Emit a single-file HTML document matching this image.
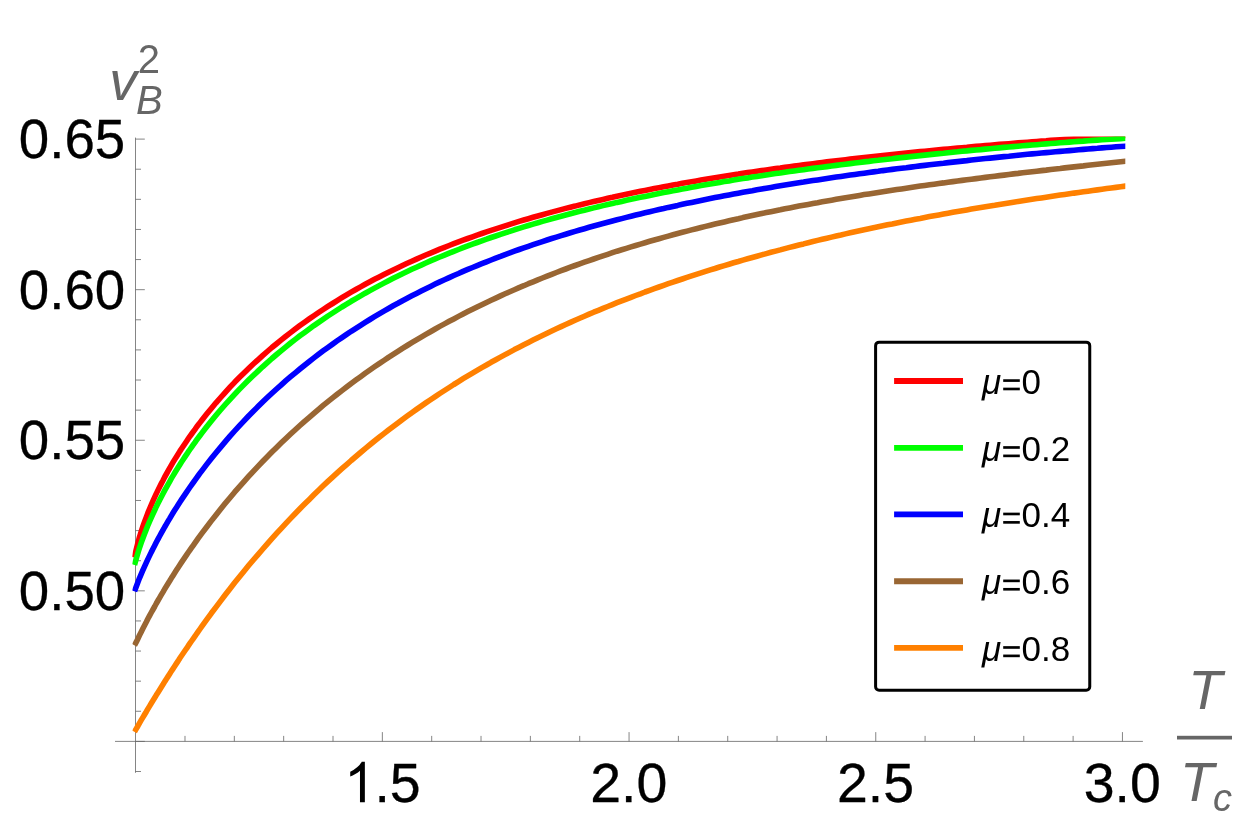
<!DOCTYPE html>
<html><head><meta charset="utf-8"><title>Plot</title>
<style>html,body{margin:0;padding:0;background:#fff;}body{width:1241px;height:835px;overflow:hidden;font-family:"Liberation Sans",sans-serif;}svg{display:block;will-change:transform;}</style>
</head><body>
<svg width="1241" height="835" viewBox="0 0 1241 835">
<defs><clipPath id="c"><rect x="132.4" y="136.4" width="992.9" height="640"/></clipPath></defs>
<rect width="1241" height="835" fill="#fff"/>
<path d="M115,741.4 H1142.9 M135.5,137.6 V772.8 M184.99,741.4 v-5.5 M234.33,741.4 v-5.5 M283.67,741.4 v-5.5 M333.01,741.4 v-5.5 M382.35,741.4 v-9.3 M431.69,741.4 v-5.5 M481.03,741.4 v-5.5 M530.37,741.4 v-5.5 M579.71,741.4 v-5.5 M629.05,741.4 v-9.3 M678.39,741.4 v-5.5 M727.73,741.4 v-5.5 M777.07,741.4 v-5.5 M826.41,741.4 v-5.5 M875.75,741.4 v-9.3 M925.09,741.4 v-5.5 M974.43,741.4 v-5.5 M1023.77,741.4 v-5.5 M1073.11,741.4 v-5.5 M1122.45,741.4 v-9.3 M135.5,771.51 h5.5 M135.5,741.40 h9.3 M135.5,711.28 h5.5 M135.5,681.17 h5.5 M135.5,651.06 h5.5 M135.5,620.94 h5.5 M135.5,590.83 h9.3 M135.5,560.71 h5.5 M135.5,530.60 h5.5 M135.5,500.48 h5.5 M135.5,470.36 h5.5 M135.5,440.25 h9.3 M135.5,410.13 h5.5 M135.5,380.02 h5.5 M135.5,349.90 h5.5 M135.5,319.79 h5.5 M135.5,289.68 h9.3 M135.5,259.56 h5.5 M135.5,229.45 h5.5 M135.5,199.33 h5.5 M135.5,169.21 h5.5 M135.5,139.10 h9.3" fill="none" stroke="#666666" stroke-width="0.8"/>
<g clip-path="url(#c)" fill="none" stroke-width="5.6" stroke-linejoin="round">
<path d="M134.5,557.5 L136.2,549.6 L137.9,543.0 L139.5,537.0 L141.2,531.6 L142.9,526.5 L144.6,521.7 L146.3,517.2 L147.9,512.9 L149.6,508.8 L151.3,504.8 L153.0,500.9 L154.7,497.2 L156.3,493.6 L158.0,490.1 L159.7,486.7 L161.4,483.4 L163.1,480.2 L164.7,477.0 L166.4,474.0 L168.1,470.9 L169.8,468.0 L171.4,465.1 L173.1,462.2 L174.8,459.4 L176.5,456.7 L178.2,454.0 L179.8,451.4 L181.5,448.8 L183.2,446.2 L184.9,443.7 L186.6,441.2 L188.2,438.8 L189.9,436.3 L191.6,434.0 L193.3,431.6 L195.0,429.3 L196.6,427.0 L198.3,424.8 L200.0,422.6 L202.0,420.0 L206.7,414.1 L211.3,408.4 L216.0,402.8 L220.7,397.5 L225.3,392.3 L230.0,387.2 L234.6,382.3 L239.3,377.6 L244.0,372.9 L248.6,368.4 L253.3,364.0 L258.0,359.8 L262.6,355.6 L267.3,351.5 L271.9,347.5 L276.6,343.7 L281.3,339.9 L285.9,336.2 L290.6,332.6 L295.3,329.1 L299.9,325.6 L304.6,322.2 L309.3,318.9 L313.9,315.7 L318.6,312.5 L323.2,309.5 L327.9,306.4 L332.6,303.5 L337.2,300.6 L341.9,297.7 L346.6,294.9 L351.2,292.2 L355.9,289.5 L360.6,286.9 L365.2,284.3 L369.9,281.8 L374.5,279.3 L379.2,276.9 L383.9,274.5 L388.5,272.2 L393.2,269.9 L397.9,267.7 L402.5,265.5 L407.2,263.3 L411.8,261.2 L416.5,259.1 L421.2,257.0 L425.8,255.0 L430.5,253.1 L435.2,251.1 L439.8,249.2 L444.5,247.4 L449.2,245.5 L453.8,243.7 L458.5,241.9 L463.1,240.2 L467.8,238.5 L472.5,236.8 L477.1,235.1 L481.8,233.5 L486.5,231.9 L491.1,230.3 L495.8,228.8 L500.5,227.3 L505.1,225.8 L509.8,224.3 L514.4,222.9 L519.1,221.4 L523.8,220.0 L528.4,218.7 L533.1,217.3 L537.8,216.0 L542.4,214.7 L547.1,213.4 L551.7,212.1 L556.4,210.9 L561.1,209.6 L565.7,208.4 L570.4,207.2 L575.1,206.1 L579.7,204.9 L584.4,203.8 L589.1,202.6 L593.7,201.5 L598.4,200.4 L603.0,199.4 L607.7,198.3 L612.4,197.3 L617.0,196.2 L621.7,195.2 L626.4,194.2 L631.0,193.3 L635.7,192.3 L640.4,191.3 L645.0,190.4 L649.7,189.5 L654.3,188.6 L659.0,187.7 L663.7,186.8 L668.3,185.9 L673.0,185.0 L677.7,184.2 L682.3,183.3 L687.0,182.5 L691.6,181.7 L696.3,180.9 L701.0,180.1 L705.6,179.3 L710.3,178.5 L715.0,177.7 L719.6,177.0 L724.3,176.2 L729.0,175.5 L733.6,174.8 L738.3,174.1 L742.9,173.3 L747.6,172.6 L752.3,171.9 L756.9,171.3 L761.6,170.6 L766.3,169.9 L770.9,169.3 L775.6,168.6 L780.3,168.0 L784.9,167.3 L789.6,166.7 L794.2,166.1 L798.9,165.5 L803.6,164.8 L808.2,164.2 L812.9,163.7 L817.6,163.1 L822.2,162.5 L826.9,161.9 L831.5,161.3 L836.2,160.8 L840.9,160.2 L845.5,159.7 L850.2,159.1 L854.9,158.6 L859.5,158.1 L864.2,157.5 L868.9,157.0 L873.5,156.5 L878.2,156.0 L882.8,155.5 L887.5,155.0 L892.2,154.5 L896.8,154.0 L901.5,153.5 L906.2,153.0 L910.8,152.6 L915.5,152.1 L920.2,151.6 L924.8,151.2 L929.5,150.7 L934.1,150.3 L938.8,149.8 L943.5,149.4 L948.1,149.0 L952.8,148.5 L957.5,148.1 L962.1,147.7 L966.8,147.3 L971.4,146.8 L976.1,146.4 L980.8,146.0 L985.4,145.6 L990.1,145.2 L994.8,144.8 L999.4,144.4 L1004.1,144.1 L1008.8,143.7 L1013.4,143.3 L1018.1,142.9 L1022.7,142.6 L1027.4,142.2 L1032.1,141.8 L1036.7,141.5 L1041.4,141.1 L1046.1,140.8 L1050.7,140.4 L1055.4,140.1 L1060.1,139.7 L1064.7,139.4 L1069.4,139.1 L1074.0,138.8 L1078.7,138.4 L1083.4,138.1 L1088.0,137.8 L1092.7,137.5 L1097.4,137.2 L1102.0,136.9 L1106.7,136.6 L1111.3,136.3 L1116.0,136.0 L1120.7,135.7 L1125.3,135.4 L1130.0,135.1" stroke="#ff0000"/>
<path d="M134.5,564.9 L136.2,558.7 L137.9,553.0 L139.5,547.8 L141.2,542.8 L142.9,538.2 L144.6,533.7 L146.3,529.4 L147.9,525.3 L149.6,521.4 L151.3,517.6 L153.0,513.8 L154.7,510.2 L156.3,506.7 L158.0,503.3 L159.7,499.9 L161.4,496.7 L163.1,493.5 L164.7,490.4 L166.4,487.3 L168.1,484.3 L169.8,481.3 L171.4,478.4 L173.1,475.6 L174.8,472.8 L176.5,470.0 L178.2,467.3 L179.8,464.7 L181.5,462.0 L183.2,459.5 L184.9,456.9 L186.6,454.4 L188.2,451.9 L189.9,449.5 L191.6,447.1 L193.3,444.7 L195.0,442.4 L196.6,440.0 L198.3,437.8 L200.0,435.5 L202.0,432.9 L206.7,426.8 L211.3,421.0 L216.0,415.3 L220.7,409.8 L225.3,404.5 L230.0,399.3 L234.6,394.3 L239.3,389.4 L244.0,384.6 L248.6,380.0 L253.3,375.5 L258.0,371.1 L262.6,366.8 L267.3,362.6 L271.9,358.5 L276.6,354.5 L281.3,350.6 L285.9,346.8 L290.6,343.0 L295.3,339.4 L299.9,335.8 L304.6,332.4 L309.3,329.0 L313.9,325.6 L318.6,322.4 L323.2,319.2 L327.9,316.0 L332.6,313.0 L337.2,310.0 L341.9,307.0 L346.6,304.2 L351.2,301.3 L355.9,298.6 L360.6,295.9 L365.2,293.2 L369.9,290.6 L374.5,288.1 L379.2,285.6 L383.9,283.1 L388.5,280.7 L393.2,278.3 L397.9,276.0 L402.5,273.7 L407.2,271.5 L411.8,269.3 L416.5,267.2 L421.2,265.1 L425.8,263.0 L430.5,260.9 L435.2,258.9 L439.8,257.0 L444.5,255.1 L449.2,253.2 L453.8,251.3 L458.5,249.5 L463.1,247.7 L467.8,245.9 L472.5,244.2 L477.1,242.5 L481.8,240.8 L486.5,239.2 L491.1,237.5 L495.8,236.0 L500.5,234.4 L505.1,232.8 L509.8,231.3 L514.4,229.8 L519.1,228.4 L523.8,226.9 L528.4,225.5 L533.1,224.1 L537.8,222.8 L542.4,221.4 L547.1,220.1 L551.7,218.8 L556.4,217.5 L561.1,216.2 L565.7,215.0 L570.4,213.7 L575.1,212.5 L579.7,211.3 L584.4,210.2 L589.1,209.0 L593.7,207.9 L598.4,206.7 L603.0,205.6 L607.7,204.5 L612.4,203.5 L617.0,202.4 L621.7,201.4 L626.4,200.3 L631.0,199.3 L635.7,198.3 L640.4,197.3 L645.0,196.4 L649.7,195.4 L654.3,194.4 L659.0,193.5 L663.7,192.6 L668.3,191.7 L673.0,190.8 L677.7,189.9 L682.3,189.0 L687.0,188.2 L691.6,187.3 L696.3,186.5 L701.0,185.6 L705.6,184.8 L710.3,184.0 L715.0,183.2 L719.6,182.4 L724.3,181.6 L729.0,180.9 L733.6,180.1 L738.3,179.3 L742.9,178.6 L747.6,177.9 L752.3,177.1 L756.9,176.4 L761.6,175.7 L766.3,175.0 L770.9,174.3 L775.6,173.6 L780.3,173.0 L784.9,172.3 L789.6,171.6 L794.2,171.0 L798.9,170.3 L803.6,169.7 L808.2,169.0 L812.9,168.4 L817.6,167.8 L822.2,167.2 L826.9,166.6 L831.5,166.0 L836.2,165.4 L840.9,164.8 L845.5,164.2 L850.2,163.6 L854.9,163.0 L859.5,162.5 L864.2,161.9 L868.9,161.4 L873.5,160.8 L878.2,160.3 L882.8,159.7 L887.5,159.2 L892.2,158.7 L896.8,158.1 L901.5,157.6 L906.2,157.1 L910.8,156.6 L915.5,156.1 L920.2,155.6 L924.8,155.1 L929.5,154.6 L934.1,154.1 L938.8,153.6 L943.5,153.2 L948.1,152.7 L952.8,152.2 L957.5,151.8 L962.1,151.3 L966.8,150.9 L971.4,150.4 L976.1,150.0 L980.8,149.6 L985.4,149.1 L990.1,148.7 L994.8,148.3 L999.4,147.9 L1004.1,147.4 L1008.8,147.0 L1013.4,146.6 L1018.1,146.2 L1022.7,145.8 L1027.4,145.4 L1032.1,145.0 L1036.7,144.7 L1041.4,144.3 L1046.1,143.9 L1050.7,143.5 L1055.4,143.2 L1060.1,142.8 L1064.7,142.5 L1069.4,142.1 L1074.0,141.8 L1078.7,141.4 L1083.4,141.1 L1088.0,140.7 L1092.7,140.4 L1097.4,140.1 L1102.0,139.8 L1106.7,139.5 L1111.3,139.2 L1116.0,138.9 L1120.7,138.6 L1125.3,138.3 L1130.0,138.0" stroke="#00ff00"/>
<path d="M134.5,591.3 L136.2,586.7 L137.9,582.3 L139.5,578.1 L141.2,574.1 L142.9,570.2 L144.6,566.4 L146.3,562.7 L147.9,559.1 L149.6,555.6 L151.3,552.1 L153.0,548.8 L154.7,545.5 L156.3,542.3 L158.0,539.1 L159.7,536.0 L161.4,532.9 L163.1,529.9 L164.7,527.0 L166.4,524.1 L168.1,521.2 L169.8,518.4 L171.4,515.6 L173.1,512.8 L174.8,510.1 L176.5,507.5 L178.2,504.8 L179.8,502.2 L181.5,499.6 L183.2,497.1 L184.9,494.6 L186.6,492.1 L188.2,489.7 L189.9,487.2 L191.6,484.8 L193.3,482.5 L195.0,480.1 L196.6,477.8 L198.3,475.5 L200.0,473.2 L202.0,470.6 L206.7,464.4 L211.3,458.5 L216.0,452.7 L220.7,447.1 L225.3,441.6 L230.0,436.2 L234.6,431.0 L239.3,425.9 L244.0,420.9 L248.6,416.0 L253.3,411.3 L258.0,406.6 L262.6,402.1 L267.3,397.6 L271.9,393.3 L276.6,389.0 L281.3,384.8 L285.9,380.7 L290.6,376.7 L295.3,372.8 L299.9,369.0 L304.6,365.2 L309.3,361.5 L313.9,357.9 L318.6,354.3 L323.2,350.8 L327.9,347.4 L332.6,344.1 L337.2,340.8 L341.9,337.6 L346.6,334.4 L351.2,331.3 L355.9,328.3 L360.6,325.3 L365.2,322.4 L369.9,319.5 L374.5,316.7 L379.2,313.9 L383.9,311.1 L388.5,308.5 L393.2,305.8 L397.9,303.3 L402.5,300.7 L407.2,298.2 L411.8,295.8 L416.5,293.4 L421.2,291.0 L425.8,288.7 L430.5,286.4 L435.2,284.1 L439.8,281.9 L444.5,279.8 L449.2,277.6 L453.8,275.5 L458.5,273.5 L463.1,271.4 L467.8,269.4 L472.5,267.5 L477.1,265.6 L481.8,263.7 L486.5,261.8 L491.1,260.0 L495.8,258.1 L500.5,256.4 L505.1,254.6 L509.8,252.9 L514.4,251.2 L519.1,249.5 L523.8,247.9 L528.4,246.3 L533.1,244.7 L537.8,243.1 L542.4,241.6 L547.1,240.0 L551.7,238.5 L556.4,237.1 L561.1,235.6 L565.7,234.2 L570.4,232.8 L575.1,231.4 L579.7,230.0 L584.4,228.7 L589.1,227.3 L593.7,226.0 L598.4,224.7 L603.0,223.5 L607.7,222.2 L612.4,221.0 L617.0,219.8 L621.7,218.6 L626.4,217.4 L631.0,216.2 L635.7,215.0 L640.4,213.9 L645.0,212.8 L649.7,211.7 L654.3,210.6 L659.0,209.5 L663.7,208.5 L668.3,207.4 L673.0,206.4 L677.7,205.4 L682.3,204.3 L687.0,203.3 L691.6,202.4 L696.3,201.4 L701.0,200.4 L705.6,199.5 L710.3,198.6 L715.0,197.6 L719.6,196.7 L724.3,195.8 L729.0,194.9 L733.6,194.1 L738.3,193.2 L742.9,192.3 L747.6,191.5 L752.3,190.7 L756.9,189.8 L761.6,189.0 L766.3,188.2 L770.9,187.4 L775.6,186.6 L780.3,185.8 L784.9,185.1 L789.6,184.3 L794.2,183.5 L798.9,182.8 L803.6,182.1 L808.2,181.3 L812.9,180.6 L817.6,179.9 L822.2,179.2 L826.9,178.5 L831.5,177.8 L836.2,177.1 L840.9,176.4 L845.5,175.8 L850.2,175.1 L854.9,174.4 L859.5,173.8 L864.2,173.2 L868.9,172.5 L873.5,171.9 L878.2,171.3 L882.8,170.6 L887.5,170.0 L892.2,169.4 L896.8,168.8 L901.5,168.2 L906.2,167.7 L910.8,167.1 L915.5,166.5 L920.2,165.9 L924.8,165.4 L929.5,164.8 L934.1,164.3 L938.8,163.7 L943.5,163.2 L948.1,162.6 L952.8,162.1 L957.5,161.6 L962.1,161.1 L966.8,160.6 L971.4,160.0 L976.1,159.5 L980.8,159.0 L985.4,158.5 L990.1,158.1 L994.8,157.6 L999.4,157.1 L1004.1,156.6 L1008.8,156.2 L1013.4,155.7 L1018.1,155.2 L1022.7,154.8 L1027.4,154.3 L1032.1,153.9 L1036.7,153.5 L1041.4,153.0 L1046.1,152.6 L1050.7,152.2 L1055.4,151.8 L1060.1,151.4 L1064.7,151.0 L1069.4,150.6 L1074.0,150.2 L1078.7,149.8 L1083.4,149.4 L1088.0,149.0 L1092.7,148.6 L1097.4,148.3 L1102.0,147.9 L1106.7,147.5 L1111.3,147.2 L1116.0,146.8 L1120.7,146.5 L1125.3,146.2 L1130.0,145.8" stroke="#0000ff"/>
<path d="M134.5,645.3 L136.2,642.2 L137.9,638.7 L139.5,635.3 L141.2,631.9 L142.9,628.5 L144.6,625.2 L146.3,622.0 L147.9,618.8 L149.6,615.6 L151.3,612.5 L153.0,609.5 L154.7,606.5 L156.3,603.5 L158.0,600.5 L159.7,597.6 L161.4,594.7 L163.1,591.9 L164.7,589.0 L166.4,586.3 L168.1,583.5 L169.8,580.8 L171.4,578.1 L173.1,575.4 L174.8,572.8 L176.5,570.1 L178.2,567.5 L179.8,565.0 L181.5,562.4 L183.2,559.9 L184.9,557.4 L186.6,554.9 L188.2,552.5 L189.9,550.1 L191.6,547.7 L193.3,545.3 L195.0,542.9 L196.6,540.6 L198.3,538.2 L200.0,535.9 L202.0,533.2 L206.7,527.0 L211.3,520.9 L216.0,514.9 L220.7,509.0 L225.3,503.3 L230.0,497.7 L234.6,492.2 L239.3,486.9 L244.0,481.6 L248.6,476.4 L253.3,471.3 L258.0,466.4 L262.6,461.5 L267.3,456.7 L271.9,452.0 L276.6,447.4 L281.3,442.8 L285.9,438.4 L290.6,434.0 L295.3,429.7 L299.9,425.5 L304.6,421.3 L309.3,417.3 L313.9,413.3 L318.6,409.3 L323.2,405.4 L327.9,401.6 L332.6,397.9 L337.2,394.2 L341.9,390.6 L346.6,387.0 L351.2,383.5 L355.9,380.1 L360.6,376.7 L365.2,373.3 L369.9,370.0 L374.5,366.8 L379.2,363.6 L383.9,360.5 L388.5,357.4 L393.2,354.4 L397.9,351.4 L402.5,348.4 L407.2,345.5 L411.8,342.7 L416.5,339.9 L421.2,337.1 L425.8,334.4 L430.5,331.7 L435.2,329.0 L439.8,326.4 L444.5,323.9 L449.2,321.3 L453.8,318.9 L458.5,316.4 L463.1,314.0 L467.8,311.6 L472.5,309.3 L477.1,307.0 L481.8,304.7 L486.5,302.4 L491.1,300.2 L495.8,298.1 L500.5,295.9 L505.1,293.8 L509.8,291.7 L514.4,289.7 L519.1,287.6 L523.8,285.7 L528.4,283.7 L533.1,281.8 L537.8,279.8 L542.4,278.0 L547.1,276.1 L551.7,274.3 L556.4,272.5 L561.1,270.7 L565.7,269.0 L570.4,267.2 L575.1,265.5 L579.7,263.8 L584.4,262.2 L589.1,260.6 L593.7,259.0 L598.4,257.4 L603.0,255.8 L607.7,254.3 L612.4,252.7 L617.0,251.2 L621.7,249.8 L626.4,248.3 L631.0,246.9 L635.7,245.5 L640.4,244.1 L645.0,242.7 L649.7,241.3 L654.3,240.0 L659.0,238.7 L663.7,237.4 L668.3,236.1 L673.0,234.8 L677.7,233.5 L682.3,232.3 L687.0,231.1 L691.6,229.9 L696.3,228.7 L701.0,227.5 L705.6,226.4 L710.3,225.2 L715.0,224.1 L719.6,223.0 L724.3,221.9 L729.0,220.8 L733.6,219.7 L738.3,218.7 L742.9,217.6 L747.6,216.6 L752.3,215.6 L756.9,214.6 L761.6,213.6 L766.3,212.6 L770.9,211.7 L775.6,210.7 L780.3,209.8 L784.9,208.8 L789.6,207.9 L794.2,207.0 L798.9,206.1 L803.6,205.2 L808.2,204.4 L812.9,203.5 L817.6,202.7 L822.2,201.8 L826.9,201.0 L831.5,200.2 L836.2,199.3 L840.9,198.5 L845.5,197.7 L850.2,197.0 L854.9,196.2 L859.5,195.4 L864.2,194.6 L868.9,193.9 L873.5,193.2 L878.2,192.4 L882.8,191.7 L887.5,191.0 L892.2,190.3 L896.8,189.6 L901.5,188.9 L906.2,188.2 L910.8,187.5 L915.5,186.8 L920.2,186.1 L924.8,185.5 L929.5,184.8 L934.1,184.2 L938.8,183.5 L943.5,182.9 L948.1,182.2 L952.8,181.6 L957.5,181.0 L962.1,180.4 L966.8,179.8 L971.4,179.2 L976.1,178.6 L980.8,178.0 L985.4,177.4 L990.1,176.8 L994.8,176.2 L999.4,175.6 L1004.1,175.1 L1008.8,174.5 L1013.4,173.9 L1018.1,173.4 L1022.7,172.8 L1027.4,172.3 L1032.1,171.7 L1036.7,171.2 L1041.4,170.6 L1046.1,170.1 L1050.7,169.5 L1055.4,169.0 L1060.1,168.5 L1064.7,167.9 L1069.4,167.4 L1074.0,166.9 L1078.7,166.4 L1083.4,165.9 L1088.0,165.3 L1092.7,164.8 L1097.4,164.3 L1102.0,163.8 L1106.7,163.3 L1111.3,162.8 L1116.0,162.3 L1120.7,161.8 L1125.3,161.3 L1130.0,160.8" stroke="#996633"/>
<path d="M134.5,731.8 L136.2,728.9 L137.9,726.0 L139.5,723.1 L141.2,720.2 L142.9,717.4 L144.6,714.5 L146.3,711.7 L147.9,708.9 L149.6,706.1 L151.3,703.3 L153.0,700.6 L154.7,697.8 L156.3,695.1 L158.0,692.4 L159.7,689.7 L161.4,687.0 L163.1,684.3 L164.7,681.6 L166.4,679.0 L168.1,676.4 L169.8,673.7 L171.4,671.1 L173.1,668.6 L174.8,666.0 L176.5,663.4 L178.2,660.9 L179.8,658.3 L181.5,655.8 L183.2,653.3 L184.9,650.8 L186.6,648.4 L188.2,645.9 L189.9,643.4 L191.6,641.0 L193.3,638.6 L195.0,636.2 L196.6,633.8 L198.3,631.4 L200.0,629.0 L202.0,626.2 L206.7,619.7 L211.3,613.3 L216.0,607.1 L220.7,600.9 L225.3,594.8 L230.0,588.8 L234.6,582.8 L239.3,577.0 L244.0,571.3 L248.6,565.6 L253.3,560.0 L258.0,554.6 L262.6,549.2 L267.3,543.8 L271.9,538.6 L276.6,533.4 L281.3,528.3 L285.9,523.3 L290.6,518.4 L295.3,513.5 L299.9,508.7 L304.6,504.0 L309.3,499.4 L313.9,494.8 L318.6,490.3 L323.2,485.8 L327.9,481.4 L332.6,477.1 L337.2,472.9 L341.9,468.7 L346.6,464.6 L351.2,460.5 L355.9,456.5 L360.6,452.5 L365.2,448.6 L369.9,444.8 L374.5,441.0 L379.2,437.3 L383.9,433.6 L388.5,430.0 L393.2,426.5 L397.9,423.0 L402.5,419.5 L407.2,416.1 L411.8,412.7 L416.5,409.4 L421.2,406.1 L425.8,402.9 L430.5,399.7 L435.2,396.6 L439.8,393.5 L444.5,390.5 L449.2,387.5 L453.8,384.5 L458.5,381.6 L463.1,378.7 L467.8,375.9 L472.5,373.1 L477.1,370.4 L481.8,367.6 L486.5,365.0 L491.1,362.3 L495.8,359.7 L500.5,357.1 L505.1,354.6 L509.8,352.1 L514.4,349.6 L519.1,347.2 L523.8,344.8 L528.4,342.4 L533.1,340.1 L537.8,337.7 L542.4,335.5 L547.1,333.2 L551.7,331.0 L556.4,328.8 L561.1,326.6 L565.7,324.5 L570.4,322.4 L575.1,320.3 L579.7,318.3 L584.4,316.2 L589.1,314.2 L593.7,312.2 L598.4,310.3 L603.0,308.4 L607.7,306.5 L612.4,304.6 L617.0,302.7 L621.7,300.9 L626.4,299.1 L631.0,297.3 L635.7,295.5 L640.4,293.8 L645.0,292.0 L649.7,290.3 L654.3,288.7 L659.0,287.0 L663.7,285.3 L668.3,283.7 L673.0,282.1 L677.7,280.5 L682.3,279.0 L687.0,277.4 L691.6,275.9 L696.3,274.4 L701.0,272.9 L705.6,271.4 L710.3,269.9 L715.0,268.5 L719.6,267.0 L724.3,265.6 L729.0,264.2 L733.6,262.8 L738.3,261.5 L742.9,260.1 L747.6,258.8 L752.3,257.5 L756.9,256.2 L761.6,254.9 L766.3,253.6 L770.9,252.3 L775.6,251.1 L780.3,249.9 L784.9,248.6 L789.6,247.4 L794.2,246.2 L798.9,245.0 L803.6,243.9 L808.2,242.7 L812.9,241.6 L817.6,240.4 L822.2,239.3 L826.9,238.2 L831.5,237.1 L836.2,236.0 L840.9,235.0 L845.5,233.9 L850.2,232.8 L854.9,231.8 L859.5,230.8 L864.2,229.8 L868.9,228.8 L873.5,227.8 L878.2,226.8 L882.8,225.8 L887.5,224.8 L892.2,223.9 L896.8,222.9 L901.5,222.0 L906.2,221.1 L910.8,220.2 L915.5,219.2 L920.2,218.4 L924.8,217.5 L929.5,216.6 L934.1,215.7 L938.8,214.9 L943.5,214.0 L948.1,213.2 L952.8,212.3 L957.5,211.5 L962.1,210.7 L966.8,209.9 L971.4,209.1 L976.1,208.3 L980.8,207.5 L985.4,206.7 L990.1,205.9 L994.8,205.2 L999.4,204.4 L1004.1,203.7 L1008.8,202.9 L1013.4,202.2 L1018.1,201.4 L1022.7,200.7 L1027.4,200.0 L1032.1,199.3 L1036.7,198.6 L1041.4,197.9 L1046.1,197.2 L1050.7,196.5 L1055.4,195.8 L1060.1,195.1 L1064.7,194.5 L1069.4,193.8 L1074.0,193.1 L1078.7,192.5 L1083.4,191.8 L1088.0,191.2 L1092.7,190.5 L1097.4,189.9 L1102.0,189.3 L1106.7,188.6 L1111.3,188.0 L1116.0,187.4 L1120.7,186.7 L1125.3,186.1 L1130.0,185.5" stroke="#ff8000"/>
</g>
<g font-family="Liberation Sans, sans-serif" font-size="55.5" fill="#000" stroke="#000" stroke-width="0.3">
<text transform="translate(125.2,158.1) scale(0.985,1.015)" text-anchor="end">0.65</text>
<text transform="translate(125.2,308.7) scale(0.985,1.015)" text-anchor="end">0.60</text>
<text transform="translate(125.2,459.2) scale(0.985,1.015)" text-anchor="end">0.55</text>
<text transform="translate(125.2,609.8) scale(0.985,1.015)" text-anchor="end">0.50</text>
<path stroke="none" transform="translate(344.18,802.2) scale(0.02710,-0.02751)" d="M763 0H583V1147Q518 1085 412.5 1023Q307 961 223 930V1104Q374 1175 487 1276Q600 1377 647 1472H763Z"/>
<text transform="translate(374.44,802.2) scale(1,1.015)" text-anchor="start">.5</text>
<text transform="translate(628.8,802.2) scale(1,1.015)" text-anchor="middle">2.0</text>
<text transform="translate(875.5,802.2) scale(1,1.015)" text-anchor="middle">2.5</text>
<text transform="translate(1122.2,802.2) scale(1,1.015)" text-anchor="middle">3.0</text>
</g>
<g font-family="Liberation Sans, sans-serif" font-style="italic" fill="#666666">
<text x="109.2" y="99.5" font-size="55.5">v</text>
<text x="137.8" y="73.3" font-size="40" font-style="normal">2</text>
<text x="135.9" y="114.2" font-size="40">B</text>
<text x="1188.3" y="709.4" font-size="55.5">T</text>
<rect x="1177" y="735.8" width="55" height="3.7"/>
<text x="1180" y="800.8" font-size="55.5">T</text>
<text x="1213" y="811" font-size="38">c</text>
</g>
<rect x="875.6" y="342.15" width="214.15" height="348" rx="3.5" fill="#fff" stroke="#000" stroke-width="3"/>
<path d="M894.1,380.95 H963.0" stroke="#ff0000" stroke-width="5.9" fill="none"/>
<path d="M894.1,447.85 H963.0" stroke="#00ff00" stroke-width="5.9" fill="none"/>
<path d="M894.1,514.35 H963.0" stroke="#0000ff" stroke-width="5.9" fill="none"/>
<path d="M894.1,581.25 H963.0" stroke="#996633" stroke-width="5.9" fill="none"/>
<path d="M894.1,647.85 H963.0" stroke="#ff8000" stroke-width="5.9" fill="none"/>
<g><text transform="translate(982,394.0) scale(1,1.015)" font-family="Liberation Sans, sans-serif" font-size="35" fill="#000" font-style="italic">μ</text>
<rect x="1003.2" y="379.25" width="16.6" height="2.65" fill="#000"/><rect x="1003.2" y="387.65" width="16.6" height="2.65" fill="#000"/>
<text transform="translate(1021.5,394.0) scale(1,1.015)" font-family="Liberation Sans, sans-serif" font-size="35" fill="#000">0</text>
<text transform="translate(982,460.9) scale(1,1.015)" font-family="Liberation Sans, sans-serif" font-size="35" fill="#000" font-style="italic">μ</text>
<rect x="1003.2" y="446.15" width="16.6" height="2.65" fill="#000"/><rect x="1003.2" y="454.55" width="16.6" height="2.65" fill="#000"/>
<text transform="translate(1021.5,460.9) scale(1,1.015)" font-family="Liberation Sans, sans-serif" font-size="35" fill="#000">0.2</text>
<text transform="translate(982,527.4) scale(1,1.015)" font-family="Liberation Sans, sans-serif" font-size="35" fill="#000" font-style="italic">μ</text>
<rect x="1003.2" y="512.65" width="16.6" height="2.65" fill="#000"/><rect x="1003.2" y="521.05" width="16.6" height="2.65" fill="#000"/>
<text transform="translate(1021.5,527.4) scale(1,1.015)" font-family="Liberation Sans, sans-serif" font-size="35" fill="#000">0.4</text>
<text transform="translate(982,594.3) scale(1,1.015)" font-family="Liberation Sans, sans-serif" font-size="35" fill="#000" font-style="italic">μ</text>
<rect x="1003.2" y="579.55" width="16.6" height="2.65" fill="#000"/><rect x="1003.2" y="587.95" width="16.6" height="2.65" fill="#000"/>
<text transform="translate(1021.5,594.3) scale(1,1.015)" font-family="Liberation Sans, sans-serif" font-size="35" fill="#000">0.6</text>
<text transform="translate(982,660.9) scale(1,1.015)" font-family="Liberation Sans, sans-serif" font-size="35" fill="#000" font-style="italic">μ</text>
<rect x="1003.2" y="646.15" width="16.6" height="2.65" fill="#000"/><rect x="1003.2" y="654.55" width="16.6" height="2.65" fill="#000"/>
<text transform="translate(1021.5,660.9) scale(1,1.015)" font-family="Liberation Sans, sans-serif" font-size="35" fill="#000">0.8</text></g>
</svg>
</body></html>
